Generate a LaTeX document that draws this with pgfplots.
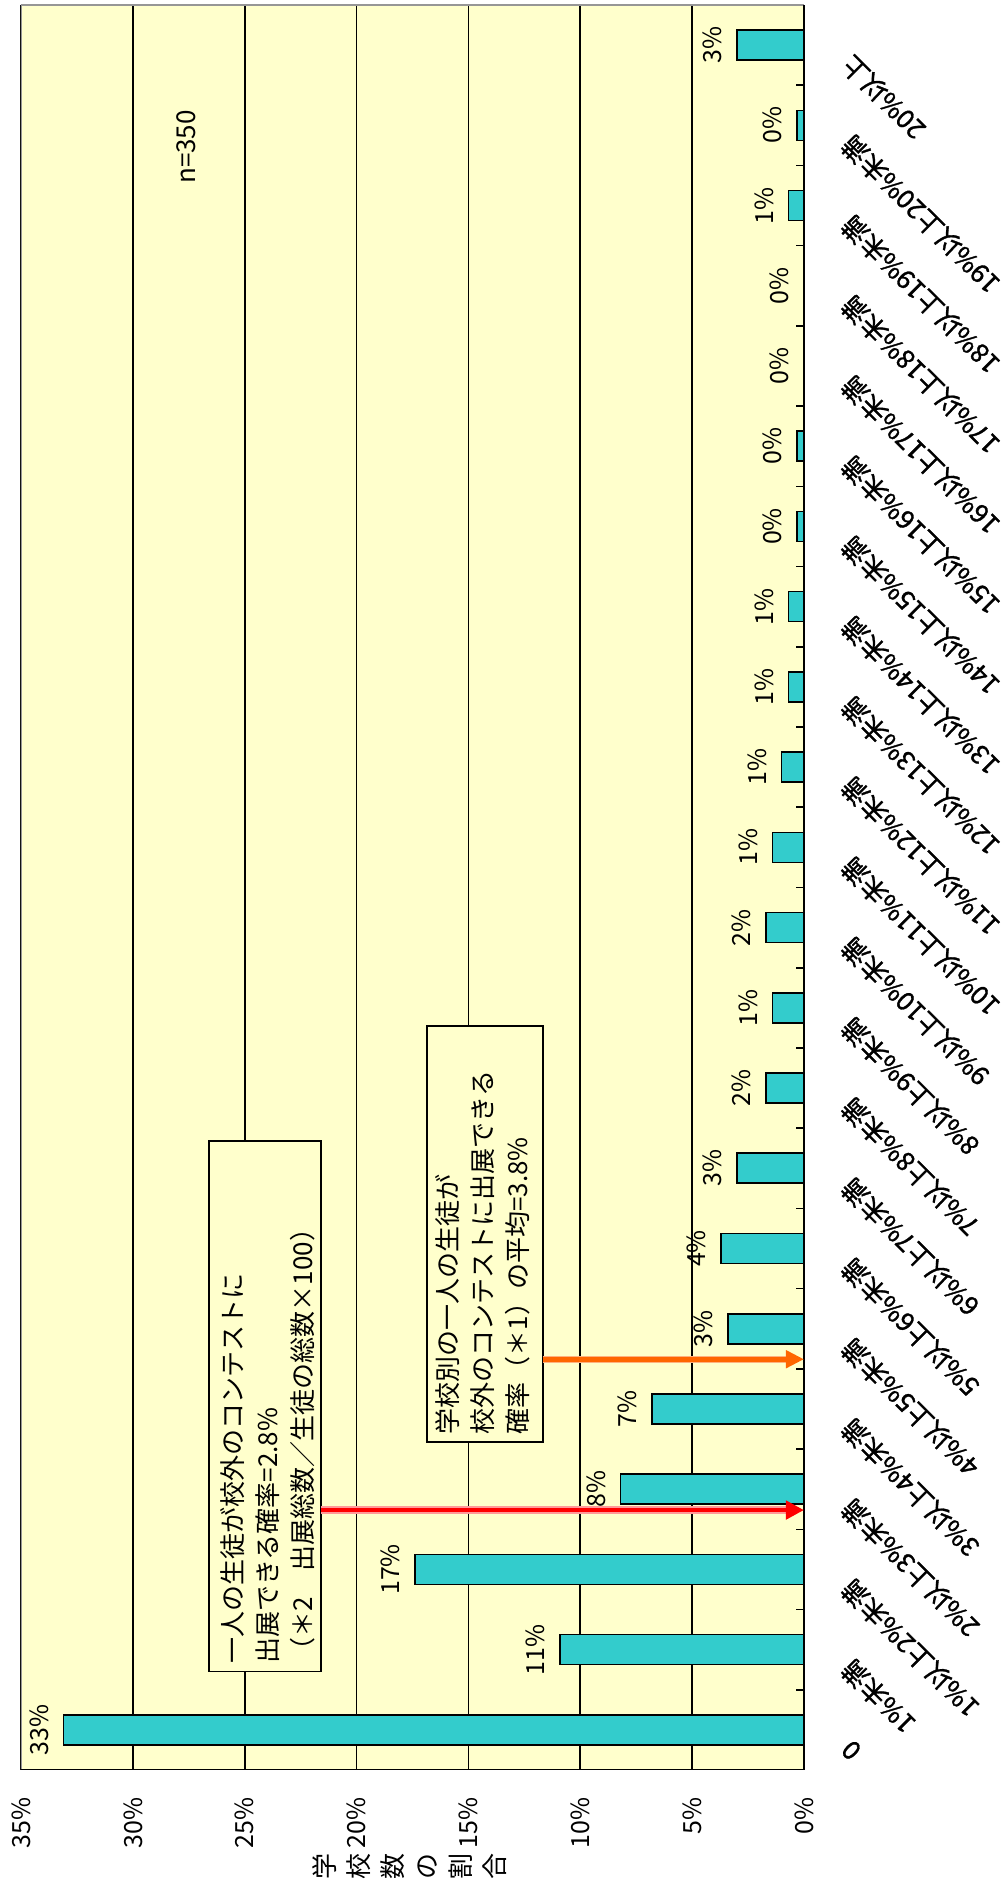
\documentclass[border=0pt]{standalone}
\usepackage{fontspec}
\setmainfont{Noto Sans CJK JP}
\newfontfamily\catface{Noto Sans CJK JP}[FakeBold=1.2]
\usepackage{pgfplots}
\usepackage{pgfplotstable}
\pgfplotsset{compat=1.18}
\usetikzlibrary{arrows.meta}

\definecolor{plotbg}{RGB}{255,255,204}
\definecolor{barfill}{RGB}{51,204,204}
\definecolor{framegray}{RGB}{150,150,150}
\definecolor{arrowred}{RGB}{255,0,0}
\definecolor{arroworange}{RGB}{255,102,0}

\newcommand\lblfont{\fontsize{12.5pt}{14pt}\selectfont}
\newcommand\catfont{\catface\fontsize{13pt}{15pt}\selectfont}
\newcommand\boxfont{\fontsize{13pt}{17.5pt}\selectfont}

% share of schools (%) per class of the per-student entry probability
\pgfplotstableread{
idx share
0 33.1
1 10.9
2 17.4
3 8.2
4 6.8
5 3.4
6 3.7
7 3.0
8 1.7
9 1.4
10 1.7
11 1.4
12 1.0
13 0.7
14 0.7
15 0.3
16 0.3
17 0
18 0
19 0.7
20 0.3
21 3.0
}\sharetable

\begin{document}
\begin{tikzpicture}
\path[use as bounding box] (0,0) rectangle (501pt,945pt);
\begin{axis}[
  at={(10.5pt,60pt)}, anchor=south west,
  scale only axis, width=391.5pt, height=882.5pt,
  xbar, bar width=15pt,
  x dir=reverse,
  xmin=0, xmax=35,
  ymin=-0.5, ymax=21.5,
  axis background/.style={fill=plotbg},
  axis line style={draw=none},
  xtick={0,5,...,35},
  xtick pos=left,
  xmajorgrids,
  grid style={black, line width=0.8pt},
  tick style={black, line width=0.8pt},
  major tick length=4pt,
  xticklabel={\pgfmathprintnumber{\tick}\%},
  /pgf/number format/assume math mode=true,
  xticklabel style={rotate=90, anchor=east, inner sep=0pt, font=\lblfont},
  xticklabel shift=13.5pt,
  ytick={0,...,21},
  ytick style={draw=none},
  yticklabel pos=right,
  yticklabels={0,1\%未満,1\%以上2\%未満,2\%以上3\%未満,3\%以上4\%未満,4\%以上5\%未満,5\%以上6\%未満,6\%以上7\%未満,7\%以上8\%未満,8\%以上9\%未満,9\%以上10\%未満,10\%以上11\%未満,11\%以上12\%未満,12\%以上13\%未満,13\%以上14\%未満,14\%以上15\%未満,15\%以上16\%未満,16\%以上17\%未満,17\%以上18\%未満,18\%以上19\%未満,19\%以上20\%未満,20\%以上},
  yticklabel style={inner sep=0pt, anchor=east, xshift=17pt, yshift=-7.5pt, rotate=135, font=\catfont},
  point meta=x,
  nodes near coords={\pgfmathprintnumber[fixed,precision=0]{\pgfplotspointmeta}\%},
  every node near coord/.append style={rotate=90, anchor=south, inner sep=0pt, outer xsep=0pt, outer ysep=7.5pt, font=\lblfont, text=black},
]
\addplot[fill=barfill, draw=black, line width=0.8pt] table[x=share, y=idx] {\sharetable};

% plot frame: grey on the open sides, black on the two axes
\draw[framegray, line width=0.7pt] (axis cs:35,-0.5) -- (axis cs:35,21.5) -- (axis cs:0,21.5);
\draw[black, line width=0.9pt] (axis cs:35,-0.5) -- (axis cs:0,-0.5) -- (axis cs:0,21.5);
% short marks on the category axis between neighbouring classes
\pgfplotsinvokeforeach{0.5,1.5,...,20.5}{
  \draw[black, line width=0.8pt] (axis cs:0,#1) -- (axis cs:0.36,#1);
}

% sample size
\node[rotate=90, font=\boxfont] at (axis cs:27.6,19.73) {n=350};

% call-out 1: overall probability
\draw[black, line width=0.8pt, fill=plotbg] (axis cs:26.6,0.73) rectangle (axis cs:21.6,7.34);
\node[rotate=90, anchor=north west, align=left, inner sep=0pt, font=\boxfont]
  at (axis cs:26.1,0.82)
  {一人の生徒が校外のコンテストに\\出展できる確率=2.8\%\\（＊2　出展総数／生徒の総数×100）};
\draw[arrowred!40, line width=3.6pt] (axis cs:21.6,2.74) -- (axis cs:0.6,2.74);
\draw[arrowred, line width=2.4pt, -{Triangle[length=9pt,width=9pt]}] (axis cs:21.6,2.74) -- (axis cs:0,2.74);

% call-out 2: average of the per-school probabilities
\draw[black, line width=0.8pt, fill=plotbg] (axis cs:16.85,3.59) rectangle (axis cs:11.67,8.77);
\node[rotate=90, anchor=north west, align=left, inner sep=0pt, font=\boxfont]
  at (axis cs:16.5,3.68)
  {学校別の一人の生徒が\\校外のコンテストに出展できる\\確率（＊1）の平均=3.8\%};
\draw[arroworange!50, line width=3.4pt] (axis cs:11.67,4.62) -- (axis cs:0.6,4.62);
\draw[arroworange, line width=2.4pt, -{Triangle[length=9pt,width=8.5pt]}] (axis cs:11.67,4.62) -- (axis cs:0,4.62);
\end{axis}

% value axis title, characters stacked
\node[rotate=90, align=center, inner sep=0pt, font=\fontsize{13pt}{17pt}\selectfont] at (205pt,12pt) {学\\校\\数\\の\\割\\合};
\end{tikzpicture}
\end{document}
